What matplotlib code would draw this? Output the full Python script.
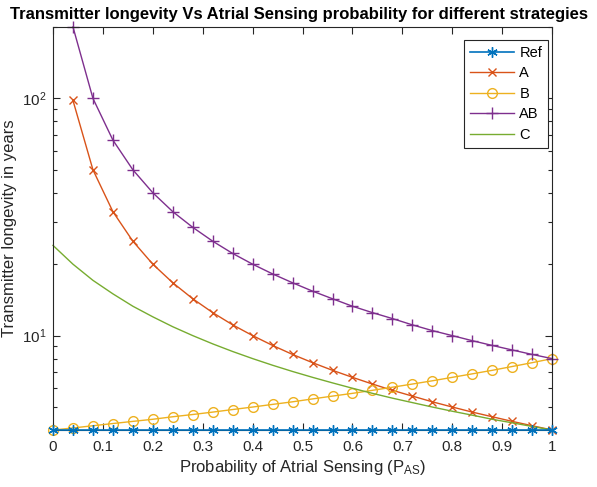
import numpy as np
import matplotlib
matplotlib.use("Agg")
import matplotlib.pyplot as plt
from matplotlib.ticker import FixedLocator, LogLocator, NullFormatter

plt.rcParams['font.family'] = ['Liberation Sans', 'DejaVu Sans']
plt.rcParams['mathtext.fontset'] = 'custom'
plt.rcParams['mathtext.rm'] = 'Liberation Sans'
plt.rcParams['mathtext.it'] = 'Liberation Sans:italic'
plt.rcParams['mathtext.bf'] = 'Liberation Sans:bold'

# probability of atrial sensing (marker positions)
p = [0.00, 0.04, 0.08, 0.12, 0.16, 0.20, 0.24, 0.28, 0.32, 0.36, 0.40, 0.44, 0.48,
     0.52, 0.56, 0.60, 0.64, 0.68, 0.72, 0.76, 0.80, 0.84, 0.88, 0.92, 0.96, 1.00]

ref = [4.0] * 26
strat_a = [np.nan, 98.0, 50.0, 33.3, 25.0, 20.0, 16.7, 14.3, 12.5, 11.1, 10.0, 9.09, 8.33,
           7.69, 7.14, 6.67, 6.25, 5.88, 5.56, 5.26, 5.00, 4.76, 4.55, 4.35, 4.17, 4.00]
strat_b = [4.00, 4.08, 4.17, 4.26, 4.35, 4.44, 4.55, 4.65, 4.76, 4.88, 5.00, 5.13, 5.26,
           5.41, 5.56, 5.71, 5.88, 6.06, 6.25, 6.45, 6.67, 6.90, 7.14, 7.41, 7.69, 8.00]
strat_ab = [np.nan, 200.0, 100.0, 66.7, 50.0, 40.0, 33.3, 28.6, 25.0, 22.2, 20.0, 18.2, 16.7,
            15.4, 14.3, 13.3, 12.5, 11.8, 11.1, 10.5, 10.0, 9.52, 9.09, 8.70, 8.33, 8.00]
strat_c = [24.0, 20.0, 17.1, 15.0, 13.3, 12.0, 10.9, 10.0, 9.23, 8.57, 8.00, 7.50, 7.06,
           6.67, 6.32, 6.00, 5.71, 5.45, 5.22, 5.00, 4.80, 4.62, 4.44, 4.29, 4.14, 4.00]

xticks = [0, 0.1, 0.2, 0.3, 0.4, 0.5, 0.6, 0.7, 0.8, 0.9, 1]
xlabels = ['0', '0.1', '0.2', '0.3', '0.4', '0.5', '0.6', '0.7', '0.8', '0.9', '1']

fig = plt.figure(figsize=(5.97, 4.87), dpi=100)
ax = fig.add_axes([0.0888, 0.117, 0.836, 0.8276])

gray = '#262626'
ax.plot(p, ref, color='#0072BD', marker=(6, 2, 0), ms=7.5, mew=1, lw=1.2, label='Ref', clip_on=False, zorder=5)
ax.plot(p, strat_a, color='#D95319', marker='x', ms=6, mew=1, lw=1, label='A', clip_on=False)
ax.plot(p, strat_b, color='#EDB120', marker='o', ms=7, mfc='none', mew=1, lw=1, label='B', clip_on=False)
ax.plot(p, strat_ab, color='#7E2F8E', marker='+', ms=8, mew=1, lw=1, label='AB', clip_on=False)
ax.plot(p, strat_c, color='#77AC30', lw=1, label='C', clip_on=False)

ax.set_yscale('log')
ax.set_xlim(0, 1)
ax.set_ylim(4, 200)
ax.set_xticks(xticks)
ax.set_xticklabels(xlabels)
ax.yaxis.set_major_locator(FixedLocator([10, 100]))
ax.yaxis.set_minor_locator(LogLocator(base=10, subs=np.arange(2, 10)))
ax.yaxis.set_minor_formatter(NullFormatter())
ax.set_yticklabels(['10$^{1}$', '10$^{2}$'])

ax.tick_params(which='both', direction='in', top=True, right=True, color=gray,
               labelcolor=gray, labelsize=11, width=0.8)
ax.tick_params(which='major', length=5)
ax.tick_params(which='minor', length=3)
ax.tick_params(axis='x', pad=7)
ax.tick_params(axis='y', pad=5)
for s in ax.spines.values():
    s.set_color(gray)
    s.set_linewidth(0.8)

ax.set_xlabel('Probability of Atrial Sensing (P$_{\\mathrm{AS}}$)', fontsize=12, color=gray, labelpad=3)
ax.set_ylabel('Transmitter longevity in years', fontsize=12, color=gray, labelpad=3)
ax.set_title('Transmitter longevity Vs Atrial Sensing probability for different strategies',
             fontsize=12.0, fontweight='bold', pad=6, x=0.492)

leg = ax.legend(loc='upper right', bbox_to_anchor=(0.992, 0.968), borderaxespad=0,
                fontsize=10.5, handlelength=3.0, handletextpad=0.4, fancybox=False,
                framealpha=1, edgecolor=gray, labelspacing=0.45)
leg.get_frame().set_linewidth(0.8)

fig.savefig('out.png', dpi=100)
